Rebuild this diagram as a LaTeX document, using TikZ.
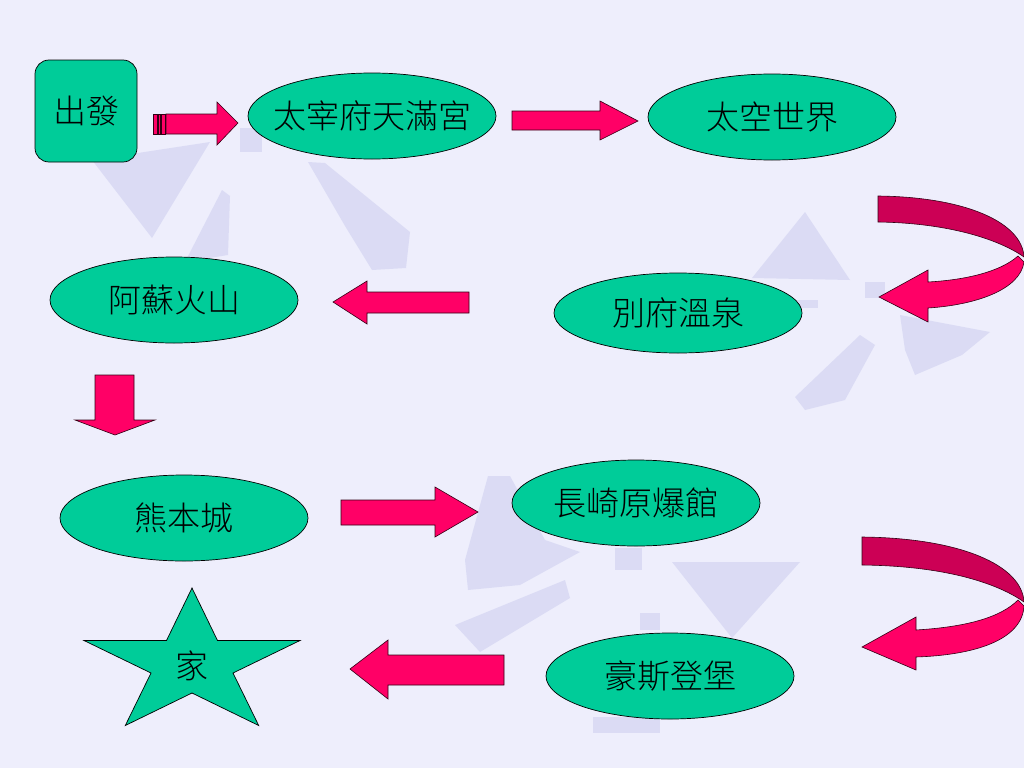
\documentclass[tikz,border=0pt]{standalone}
\usepackage{fontspec}
\newfontfamily\cjk{Noto Sans CJK TC}[UprightFont={* Light}]
\usetikzlibrary{shapes.geometric}
\definecolor{bgc}{RGB}{238,238,252}
\definecolor{blobc}{RGB}{196,198,236}
\definecolor{teal}{RGB}{0,204,153}
\definecolor{pinkc}{RGB}{255,0,102}
\definecolor{darkpink}{RGB}{204,0,85}
\newcommand{\zw}[1]{\makebox[0pt]{#1}}
\tikzset{
  place/.style={ellipse, draw=black, line width=0.7pt, fill=teal, inner sep=0pt,
    minimum width=248pt, minimum height=86pt, font=\cjk\fontsize{33pt}{38pt}\selectfont},
  startbox/.style={rectangle, rounded corners=14pt, draw=black, line width=0.7pt, fill=teal,
    minimum width=102pt, minimum height=102pt, inner sep=0pt, font=\cjk\fontsize{33pt}{38pt}\selectfont},
  lbl/.style={inner sep=0pt, font=\cjk\fontsize{33pt}{38pt}\selectfont},
  blockarrow/.style={fill=pinkc, draw=black!80!pinkc, line width=0.6pt, line join=miter},
  backarrow/.style={fill=darkpink, draw=black!80!pinkc, line width=0.6pt},
  blob/.style={fill=blobc, fill opacity=0.45, draw=none}
}
\begin{document}
\begin{tikzpicture}[x=1pt,y=-1pt]
\useasboundingbox (0,0) rectangle (1024,768);
\fill[bgc] (0,0) rectangle (1024,768);
% faint background shapes
\fill[blob] (92,160) -- (210,142) -- (152,238) -- cycle;
\fill[blob] (185,262) -- (222,190) -- (230,196) -- (228,255) -- cycle;
\fill[blob] (240,128) rectangle (262,152);
\fill[blob] (308,162) -- (325,163) -- (410,232) -- (406,268) -- (372,270) -- (345,226) -- cycle;
\fill[blob] (805,212) -- (752,278) -- (850,280) -- cycle;
\fill[blob] (865,282) rectangle (885,298);
\fill[blob] (900,315) -- (990,332) -- (962,355) -- (915,375) -- (905,350) -- cycle;
\fill[blob] (795,397) -- (860,335) -- (875,345) -- (845,400) -- (805,410) -- cycle;
\fill[blob] (797,300) rectangle (818,308);
\fill[blob] (488,476) -- (510,476) -- (545,540) -- (580,552) -- (520,585) -- (468,590) -- (465,560) -- cycle;
\fill[blob] (455,625) -- (565,580) -- (570,598) -- (500,640) -- (480,652) -- cycle;
\fill[blob] (672,562) -- (800,562) -- (732,638) -- cycle;
\fill[blob] (615,548) rectangle (642,570);
\fill[blob] (593,717) rectangle (660,733);
\fill[blob] (640,613) rectangle (660,630);

% nodes
\node[startbox] (start) at (86,111) {出發};
\node[place] (dazaifu) at (372,116) {\zw{太宰府天滿宮}};
\node[place] (space) at (772,117) {\zw{太空世界}};
\node[place, minimum height=80pt] (beppu) at (678,313) {\zw{別府溫泉}};
\node[place] (aso) at (174,300) {\zw{阿蘇火山}};
\node[place] (kuma) at (184,518) {\zw{熊本城}};
\node[place] (naga) at (636,503) {\zw{長崎原爆館}};
\node[place] (huis) at (670,676) {\zw{豪斯登堡}};
\draw[fill=teal, draw=black, line width=0.7pt]
  (192,588) -- (217.5,640.5) -- (300,640.5) -- (233,673) -- (258.7,725.5) -- (192,693)
  -- (125.3,725.5) -- (151,673) -- (84,640.5) -- (166.5,640.5) -- cycle;
\node[lbl] (home) at (192,666) {家};

% arrow start -> dazaifu (striped)
\filldraw[blockarrow] (153.3,114) rectangle (157.3,134);
\filldraw[blockarrow] (158.3,114) rectangle (160.7,134);
\filldraw[blockarrow] (161.7,114) rectangle (165,134);
\filldraw[blockarrow] (166,114) -- (217,114) -- (217,102) -- (238,123) -- (217,145) -- (217,134) -- (166,134) -- cycle;
% dazaifu -> space
\filldraw[blockarrow] (512,111) -- (600,111) -- (600,101) -- (638,121) -- (600,140) -- (600,130) -- (512,130) -- cycle;
% space -> beppu (curved)
\filldraw[backarrow] (878,196) .. controls (965,197) and (1022,222) .. (1024,257)
  .. controls (1000,240) and (950,223) .. (878,222) -- cycle;
\filldraw[blockarrow] (1018,256) .. controls (1000,272) and (965,280) .. (928,282)
  -- (928,270) -- (879,297) -- (928,322) -- (928,308)
  .. controls (975,305) and (1020,290) .. (1024,262) -- cycle;
% beppu -> aso
\filldraw[blockarrow] (469,292) -- (367,292) -- (367,281) -- (333,302) -- (367,324) -- (367,313) -- (469,313) -- cycle;
% aso -> kuma
\filldraw[blockarrow] (95,375) -- (134,375) -- (134,420) -- (155,420) -- (115,435) -- (75,420) -- (95,420) -- cycle;
% kuma -> naga
\filldraw[blockarrow] (341,500) -- (435,500) -- (435,487) -- (478,512) -- (435,537) -- (435,525) -- (341,525) -- cycle;
% naga -> huis (curved)
\filldraw[backarrow] (862,537) .. controls (960,538) and (1022,565) .. (1024,602)
  .. controls (1000,585) and (950,566) .. (862,565) -- cycle;
\filldraw[blockarrow] (1018,600) .. controls (1000,618) and (965,627) .. (916,630)
  -- (916,617) -- (862,647) -- (916,670) -- (916,657)
  .. controls (975,655) and (1022,640) .. (1024,606) -- cycle;
% huis -> home
\filldraw[blockarrow] (504,655) -- (388,655) -- (388,640) -- (350,669) -- (388,699) -- (388,685) -- (504,685) -- cycle;
\end{tikzpicture}
\end{document}
